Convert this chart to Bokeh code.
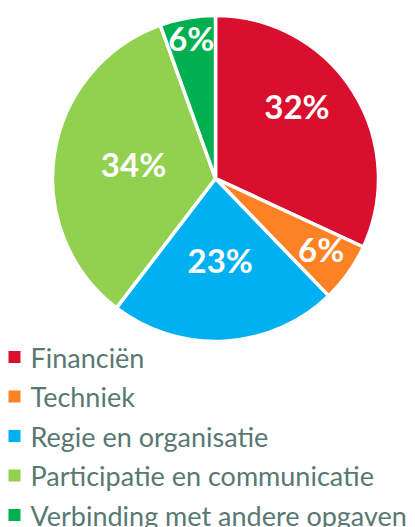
import math
from bokeh.plotting import figure
from bokeh.models import ColumnDataSource, Range1d
from bokeh.core.properties import value
from bokeh.embed import file_html
from bokeh.resources import INLINE

# ---- data ----
categories = ["Financiën", "Techniek", "Regie en organisatie",
              "Participatie en communicatie", "Verbinding met andere opgaven"]
shares = [31.9, 5.9, 22.6, 34.1, 5.5]
labels = ["32%", "6%", "23%", "34%", "6%"]

# ---- style ----
colors = ["#d90f2e", "#fd8224", "#00b0f0", "#92d050", "#00b050"]
label_r = [0.663, 0.785, 0.507, 0.509, 0.864]   # label distance / radius
label_t = [0.426, 0.45, 0.5, 0.5, 0.5]          # label position along slice

W, H = 415, 527
p = figure(width=W, height=H, output_backend="svg", toolbar_location=None,
           x_range=Range1d(0, W), y_range=Range1d(0, H), min_border=0)
p.axis.visible = False
p.grid.visible = False
p.outline_line_color = None
p.background_fill_color = "white"

cx, cy, R = 215, H - 178, 163
total = sum(shares)
starts, ends, lx, ly = [], [], [], []
acc = 0.0
for s, lr, lt in zip(shares, label_r, label_t):
    a0 = math.pi / 2 - 2 * math.pi * acc / total
    acc += s
    a1 = math.pi / 2 - 2 * math.pi * acc / total
    starts.append(a0)
    ends.append(a1)
    am = a0 + lt * (a1 - a0)
    lx.append(cx + lr * R * math.cos(am))
    ly.append(cy + lr * R * math.sin(am) + 1.5)

src = ColumnDataSource(dict(start=starts, end=ends, color=colors, cat=categories,
                            lx=lx, ly=ly, label=labels))
p.wedge(x=cx, y=cy, radius=R, start_angle="start", end_angle="end",
        direction="clock", fill_color="color", line_color="white", line_width=3.5,
        source=src)
p.text(x="lx", y="ly", text="label", source=src, text_color="white",
       text_font=value("Lato"), text_font_style="bold", text_font_size="33px",
       text_align="center", text_baseline="middle")

# ---- legend drawn manually ----
row0, step = H - 356.5, 39.5
leg_y = [row0 - i * step for i in range(len(categories))]
leg_src = ColumnDataSource(dict(y=leg_y, color=colors, cat=categories))
p.rect(x=14, y="y", width=12, height=12, fill_color="color", line_color=None,
       source=leg_src)
p.text(x=30, y="y", text="cat", source=leg_src, text_color="#587873",
       text_font=value("Lato"), text_font_size="27px",
       text_align="left", text_baseline="middle")

open("out.html", "w").write(file_html(p, INLINE))
